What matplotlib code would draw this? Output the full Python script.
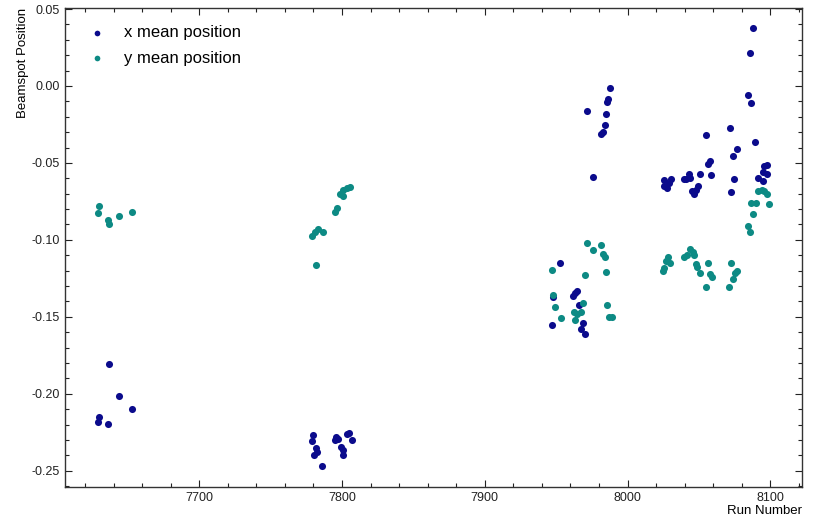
import matplotlib
matplotlib.use("Agg")
import matplotlib.pyplot as plt
from matplotlib.ticker import MultipleLocator

plt.rcParams['font.family'] = ['Liberation Sans', 'DejaVu Sans']

# run numbers and beamspot x position
runs_x = [7629, 7630, 7636, 7637, 7644, 7653,
          7778.8, 7780, 7780.4, 7781.8, 7782.7, 7786.2, 7795, 7795.8, 7797.4,
          7799, 7800.5, 7801, 7803.7, 7805, 7806.8,
          7947.2, 7948.1, 7952.8, 7961.7, 7963.1, 7964.5, 7966.3, 7967.7, 7968.7,
          7970.1, 7971.9, 7975.7, 7981.5, 7982.7, 7984.1, 7985, 7985.9, 7986.6,
          7987.8,
          8025.2, 8025.6, 8027.5, 8028.7, 8030.6, 8039.2, 8041.1, 8042.7, 8043.9,
          8045.1, 8046.7, 8048.1, 8049, 8050.9, 8055.1, 8056.7, 8057.9, 8058.8,
          8071.7, 8072.6, 8074, 8074.9, 8076.8, 8084.7, 8085.9, 8086.8, 8087.8,
          8089.6, 8091.5, 8094.8, 8094.8, 8095.7, 8097.6, 8097.6]
x_mean = [-0.2186, -0.2154, -0.2198, -0.1808, -0.2015, -0.2102,
          -0.2308, -0.2271, -0.2395, -0.2352, -0.2380, -0.2467, -0.2299, -0.2282, -0.2293,
          -0.2343, -0.2365, -0.2395, -0.2260, -0.2252, -0.2299,
          -0.1554, -0.1370, -0.1152, -0.1365, -0.1348, -0.1330, -0.1426, -0.1580, -0.1543,
          -0.1613, -0.0161, -0.0591, -0.0309, -0.0296, -0.0255, -0.0183, -0.0105, -0.0083,
          -0.0011,
          -0.0652, -0.0613, -0.0663, -0.0630, -0.0602, -0.0604, -0.0604, -0.0570, -0.0600,
          -0.0685, -0.0700, -0.0674, -0.0652, -0.0572, -0.0318, -0.0507, -0.0489, -0.0578,
          -0.0272, -0.0689, -0.0455, -0.0604, -0.0409, -0.0061, 0.0213, -0.0113, 0.0374,
          -0.0365, -0.0600, -0.0559, -0.0620, -0.0518, -0.0513, -0.0572]

# run numbers and beamspot y position
runs_y = [7629, 7630, 7636, 7637, 7644, 7653,
          7779, 7781, 7781.8, 7783.4, 7786.5, 7795, 7796.3, 7798.6, 7800.5,
          7801, 7803.3, 7805.6,
          7947.2, 7948.1, 7949, 7953.3, 7962.6, 7963.1, 7964.9, 7967.7, 7969.1,
          7970.1, 7971.9, 7975.7, 7981.7, 7983.1, 7984.1, 7985, 7985.5, 7987.3,
          7988.8,
          8024.5, 8025.6, 8027, 8028.2, 8029.8, 8039.2, 8041.6, 8043.9, 8045.8,
          8046.7, 8048.1, 8048.6, 8050.9, 8055.1, 8056.7, 8057.9, 8059.1, 8071.4,
          8072.4, 8073.8, 8075.4, 8077, 8084.7, 8085.9, 8086.4, 8087.8, 8090.1,
          8091.7, 8094.1, 8095.7, 8098, 8099]
y_mean = [-0.0824, -0.0783, -0.0872, -0.0898, -0.0846, -0.0817,
          -0.0974, -0.0952, -0.1163, -0.0930, -0.0952, -0.0817, -0.0793, -0.0700, -0.0718,
          -0.0679, -0.0666, -0.0656,
          -0.1196, -0.1361, -0.1439, -0.1508, -0.1469, -0.1521, -0.1482, -0.1469, -0.1409,
          -0.1226, -0.1022, -0.1065, -0.1031, -0.1091, -0.1113, -0.1209, -0.1426, -0.1500,
          -0.1504,
          -0.1200, -0.1184, -0.1135, -0.1109, -0.1152, -0.1109, -0.1100, -0.1061, -0.1078,
          -0.1098, -0.1156, -0.1174, -0.1213, -0.1304, -0.1148, -0.1222, -0.1239, -0.1304,
          -0.1152, -0.1254, -0.1217, -0.1200, -0.0913, -0.0948, -0.0759, -0.0833, -0.0759,
          -0.0685, -0.0674, -0.0685, -0.0700, -0.0770]

fig = plt.figure(figsize=(8.17, 5.18), dpi=100)
ax = fig.add_axes([0.0796, 0.0604, 0.9017, 0.9236])

ax.scatter(runs_x, x_mean, s=26, color='#0b0b8c', linewidths=0, label='x mean position')
ax.scatter(runs_y, y_mean, s=26, color='#0d8a84', linewidths=0, label='y mean position')

ax.set_xlim(7606, 8122)
ax.set_ylim(-0.2604, 0.0505)

ax.xaxis.set_major_locator(MultipleLocator(100))
ax.xaxis.set_minor_locator(MultipleLocator(20))
ax.yaxis.set_major_locator(MultipleLocator(0.05))
ax.yaxis.set_minor_locator(MultipleLocator(0.01))
ax.yaxis.set_major_formatter(plt.FuncFormatter(lambda v, _: f'{v:.2f}'))

ax.tick_params(which='both', direction='in', top=True, right=True,
               labelsize=9, colors='#222222', width=0.8)
ax.tick_params(which='major', length=5)
ax.tick_params(which='minor', length=3)
for sp in ax.spines.values():
    sp.set_color('#333333')
    sp.set_linewidth(1.0)

ax.set_xlabel('Run Number', loc='right', fontsize=9.5, labelpad=1)
ax.set_ylabel('Beamspot Position', loc='top', fontsize=9.5, labelpad=2)

ax.legend(loc='upper left', bbox_to_anchor=(0.0, 0.996), frameon=False,
          fontsize=12, handletextpad=0.65, markerscale=0.8, labelspacing=0.62)

fig.savefig('out.png', dpi=100)
